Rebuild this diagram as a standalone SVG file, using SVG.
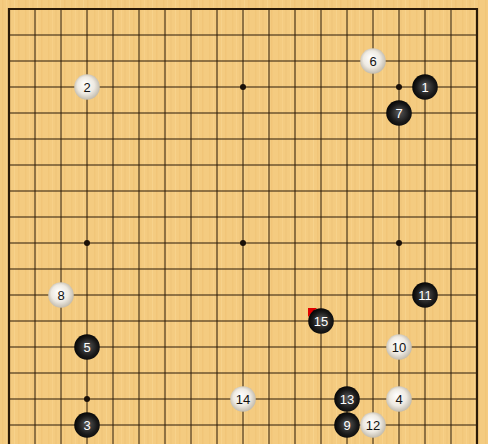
<svg xmlns="http://www.w3.org/2000/svg" width="488" height="444" viewBox="0 0 488 444">
<defs>
<pattern id="grain" x="0" y="0" width="23" height="444" patternUnits="userSpaceOnUse">
<rect width="23" height="444" fill="#F4CB80"/>
<rect x="2" width="1.5" height="444" fill="#EDC172" opacity="0.5"/>
<rect x="6" width="1" height="444" fill="#F8D48E" opacity="0.6"/>
<rect x="9" width="2" height="444" fill="#EEC377" opacity="0.45"/>
<rect x="14" width="1" height="444" fill="#F9D793" opacity="0.6"/>
<rect x="18" width="1.5" height="444" fill="#EDC070" opacity="0.45"/>
</pattern>
<radialGradient id="gb" cx="0.55" cy="0.55" r="0.6" fx="0.5" fy="0.45">
<stop offset="0" stop-color="#5a5a5a"/>
<stop offset="0.6" stop-color="#1a1a1a"/>
<stop offset="1" stop-color="#000"/>
</radialGradient>
<radialGradient id="gw" cx="0.5" cy="0.5" r="0.6" fx="0.4" fy="0.35">
<stop offset="0" stop-color="#ffffff"/>
<stop offset="0.55" stop-color="#eeeae2"/>
<stop offset="1" stop-color="#b0a898"/>
</radialGradient>
</defs>
<style>
.grid{stroke:#2a1a08;stroke-width:1;fill:none}
.border{stroke:#2a1a08;stroke-width:2.2;fill:none}
.star{fill:#1a1008}
.b{fill:url(#gb)}
.w{fill:url(#gw)}
.tb{fill:#fff;font-family:"Liberation Sans",Arial,sans-serif;font-size:13px;text-anchor:middle}
.tw{fill:#111;font-family:"Liberation Sans",Arial,sans-serif;font-size:13px;text-anchor:middle}
</style>
<rect width="488" height="444" fill="url(#grain)"/>
<g id="grid">
<path class="grid" d="M35 9V444M61 9V444M87 9V444M113 9V444M139 9V444M165 9V444M191 9V444M217 9V444M243 9V444M269 9V444M295 9V444M321 9V444M347 9V444M373 9V444M399 9V444M425 9V444M451 9V444"/>
<path class="grid" d="M9 35H477M9 61H477M9 87H477M9 113H477M9 139H477M9 165H477M9 191H477M9 217H477M9 243H477M9 269H477M9 295H477M9 321H477M9 347H477M9 373H477M9 399H477M9 425H477"/>
<path class="border" d="M9 444V9H477V444"/>
</g>
<g id="stars">
<circle class="star" cx="87" cy="87" r="3"/>
<circle class="star" cx="243" cy="87" r="3"/>
<circle class="star" cx="399" cy="87" r="3"/>
<circle class="star" cx="87" cy="243" r="3"/>
<circle class="star" cx="243" cy="243" r="3"/>
<circle class="star" cx="399" cy="243" r="3"/>
<circle class="star" cx="87" cy="399" r="3"/>
<circle class="star" cx="243" cy="399" r="3"/>
<circle class="star" cx="399" cy="399" r="3"/>
</g>
<path id="last-move-marker" d="M308 308H317L308 317Z" fill="#e00000"/>
<g id="stones">
<g id="s1"><circle class="b" cx="425" cy="87" r="12.8"/><text class="tb" x="425" y="91.5">1</text></g>
<g id="s2"><circle class="w" cx="87" cy="87" r="12.8"/><text class="tw" x="87" y="91.5">2</text></g>
<g id="s3"><circle class="b" cx="87" cy="425" r="12.8"/><text class="tb" x="87" y="429.5">3</text></g>
<g id="s4"><circle class="w" cx="399" cy="399" r="12.8"/><text class="tw" x="399" y="403.5">4</text></g>
<g id="s5"><circle class="b" cx="87" cy="347" r="12.8"/><text class="tb" x="87" y="351.5">5</text></g>
<g id="s6"><circle class="w" cx="373" cy="61" r="12.8"/><text class="tw" x="373" y="65.5">6</text></g>
<g id="s7"><circle class="b" cx="399" cy="113" r="12.8"/><text class="tb" x="399" y="117.5">7</text></g>
<g id="s8"><circle class="w" cx="61" cy="295" r="12.8"/><text class="tw" x="61" y="299.5">8</text></g>
<g id="s9"><circle class="b" cx="347" cy="425" r="12.8"/><text class="tb" x="347" y="429.5">9</text></g>
<g id="s10"><circle class="w" cx="399" cy="347" r="12.8"/><text class="tw" x="399" y="351.5">10</text></g>
<g id="s11"><circle class="b" cx="425" cy="295" r="12.8"/><text class="tb" x="425" y="299.5">11</text></g>
<g id="s12"><circle class="w" cx="373" cy="425" r="12.8"/><text class="tw" x="373" y="429.5">12</text></g>
<g id="s13"><circle class="b" cx="347" cy="399" r="12.8"/><text class="tb" x="347" y="403.5">13</text></g>
<g id="s14"><circle class="w" cx="243" cy="399" r="12.8"/><text class="tw" x="243" y="403.5">14</text></g>
<g id="s15"><circle class="b" cx="321" cy="321" r="12.8"/><text class="tb" x="321" y="325.5">15</text></g>
</g>
</svg>
